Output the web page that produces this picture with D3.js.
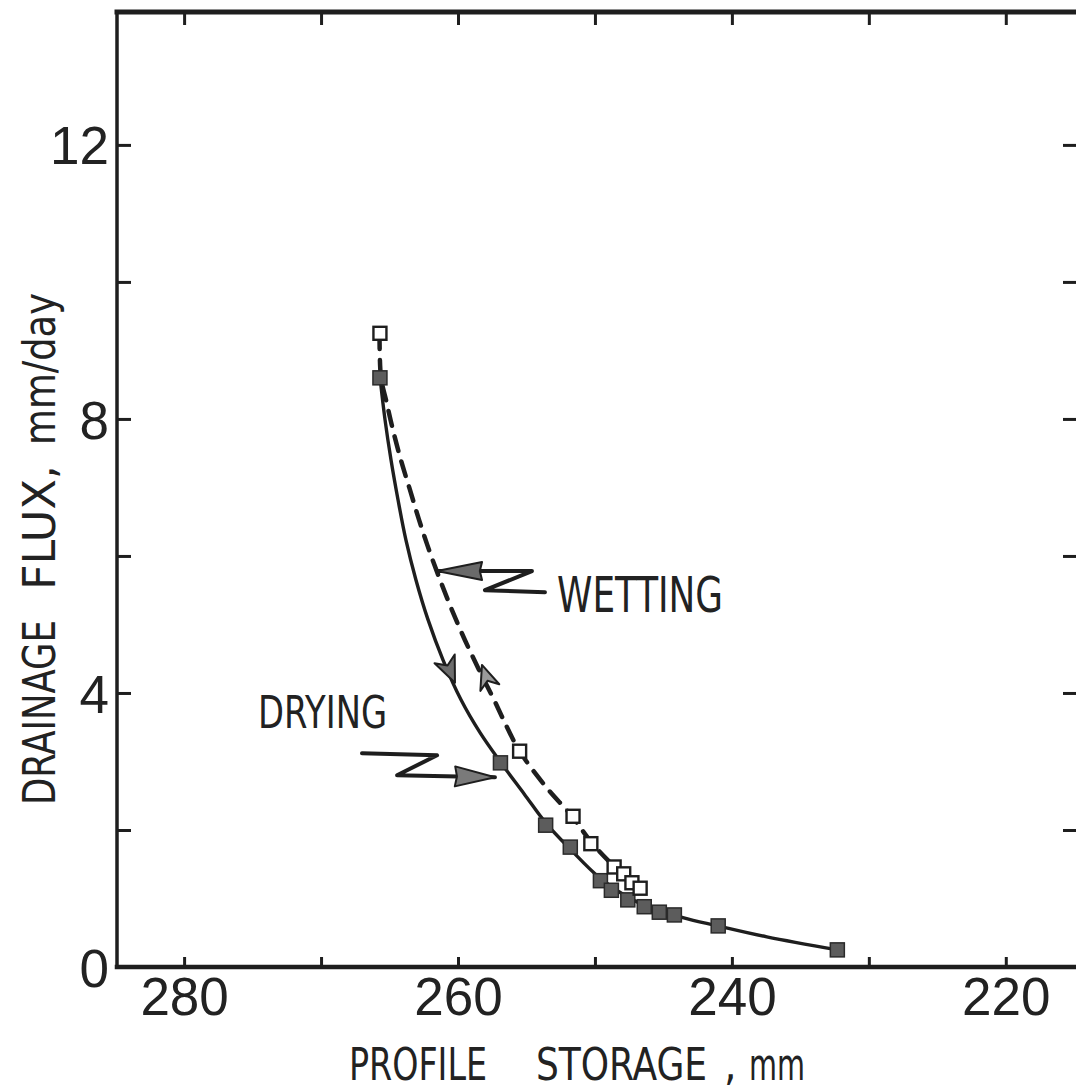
<!DOCTYPE html>
<html>
<head>
<meta charset="utf-8">
<script src="https://cdn.jsdelivr.net/npm/d3@7"></script>
<style>
  html, body { margin: 0; padding: 0; background: #fff; }
  svg { display: block; }
  .num { font-family: "Liberation Sans", Arial, sans-serif; font-size: 53px; fill: #222; }
  .cond { font-family: "Liberation Sans Narrow", "DejaVu Sans Condensed", "Roboto Condensed", sans-serif; fill: #222; }
</style>
</head>
<body>
<script>
// ---- axis ticks and labels ----
const storageTicks = [280, 270, 260, 250, 240, 230, 220];
const storageLabels = [280, 260, 240, 220];
const fluxTicks = [0, 2, 4, 6, 8, 10, 12];
const fluxLabels = [0, 4, 8, 12];

// ---- measured points: drying (filled squares) ----
const dryingStorage = [265.7, 256.9, 253.6, 251.8, 249.6, 248.8, 247.6, 246.4, 245.3, 244.2, 241.0, 232.3];
const dryingFlux    = [8.60, 2.98, 2.07, 1.75, 1.26, 1.12, 0.98, 0.88, 0.80, 0.76, 0.60, 0.25];

// ---- measured points: wetting (open squares) ----
const wettingStorage = [265.7, 255.5, 251.6, 250.3, 248.6, 247.9, 247.3, 246.7];
const wettingFlux    = [9.25, 3.15, 2.20, 1.80, 1.46, 1.36, 1.23, 1.15];

// ---- hand-fitted curves traced through the points ----
const dryingCurveStorage = [265.69, 265.33, 264.89, 264.38, 263.80, 263.07, 262.19, 261.09, 259.78, 258.39, 256.86, 255.18, 253.58, 251.75, 249.64, 247.23, 243.58, 241.02, 237.45, 232.26];
const dryingCurveFlux    = [8.60, 7.99, 7.40, 6.82, 6.23, 5.65, 5.07, 4.48, 3.90, 3.42, 2.98, 2.53, 2.10, 1.71, 1.30, 0.98, 0.72, 0.60, 0.44, 0.25];
const wettingCurveStorage = [265.73, 265.62, 265.26, 264.75, 264.17, 263.50, 262.85, 262.12, 261.31, 260.44, 259.49, 258.47, 257.37, 256.42, 255.47, 253.58, 251.68, 250.22, 248.54, 247.81, 247.30, 246.72];
const wettingCurveFlux    = [9.24, 8.60, 8.28, 7.84, 7.40, 6.96, 6.53, 6.09, 5.65, 5.21, 4.77, 4.34, 3.90, 3.50, 3.14, 2.63, 2.20, 1.81, 1.46, 1.34, 1.23, 1.15];

// ---- annotations (anchors in storage / flux units) ----
const wettingLabel = { text: "WETTING", storage: 252.77, flux: 5.18 };
const dryingLabel  = { text: "DRYING",  storage: 274.60, flux: 3.49 };
const wettingPointer = [[261.53, 5.78], [254.60, 5.78], [258.03, 5.50], [253.65, 5.47]];
const dryingPointer  = [[257.30, 2.77], [264.45, 2.80], [261.53, 3.09], [267.01, 3.12]];
const dryingDirection  = { tip: [260.22, 4.15], back: [261.09, 4.55] };
const wettingDirection = { tip: [258.25, 4.41], back: [257.66, 4.07] };

// ---- layout ----
const W = 1076, H = 1092;
const ink = "#1e1e1e";
const svg = d3.select("body").append("svg").attr("width", W).attr("height", H);

const x = d3.scaleLinear().domain([284.9, 214.8]).range([117, 1077]);
const y = d3.scaleLinear().domain([0, 13.94]).range([967, 12]);

// frame
const frame = svg.append("g").attr("stroke", ink).attr("stroke-linecap", "square").attr("fill", "none");
frame.append("line").attr("x1", x.range()[0]).attr("x2", W).attr("y1", y(13.94)).attr("y2", y(13.94)).attr("stroke-width", 5);
frame.append("line").attr("x1", x.range()[0]).attr("x2", W).attr("y1", y(0)).attr("y2", y(0)).attr("stroke-width", 4.5);
frame.append("line").attr("x1", x.range()[0]).attr("x2", x.range()[0]).attr("y1", y(13.94)).attr("y2", y(0)).attr("stroke-width", 3.5);

function styleAxis(g) {
  g.select(".domain").remove();
  g.selectAll(".tick line").attr("stroke", ink).attr("stroke-width", 3);
}

// bottom axis
svg.append("g").attr("transform", `translate(0,${y(0)})`)
  .call(d3.axisBottom(x).tickValues(storageTicks).tickSize(-10).tickSizeOuter(0)
        .tickFormat(d => storageLabels.includes(d) ? d : ""))
  .call(styleAxis)
  .call(g => g.selectAll(".tick text").attr("class", "num").attr("y", 48).attr("dy", null)
              .attr("font-size", null).attr("font-family", null).attr("fill", null));

// top axis
svg.append("g").attr("transform", `translate(0,${y(13.94)})`)
  .call(d3.axisTop(x).tickValues(storageTicks).tickSize(-13).tickSizeOuter(0).tickFormat(""))
  .call(styleAxis);

// left axis
svg.append("g").attr("transform", `translate(${x.range()[0]},0)`)
  .call(d3.axisLeft(y).tickValues(fluxTicks).tickSize(-14).tickSizeOuter(0)
        .tickFormat(d => fluxLabels.includes(d) ? d : ""))
  .call(styleAxis)
  .call(g => g.selectAll(".tick text").attr("class", "num").attr("x", -8).attr("dy", "0.36em")
              .attr("font-size", null).attr("font-family", null).attr("fill", null));

// right axis
svg.append("g").attr("transform", `translate(${x.range()[1]},0)`)
  .call(d3.axisRight(y).tickValues(fluxTicks.filter(d => d > 0)).tickSize(-14).tickSizeOuter(0).tickFormat(""))
  .call(styleAxis);

// axis titles
svg.append("text").attr("class", "cond").attr("font-size", 44)
  .attr("x", 349).attr("y", 1080).attr("textLength", 138).attr("lengthAdjust", "spacingAndGlyphs").text("PROFILE");
svg.append("text").attr("class", "cond").attr("font-size", 44)
  .attr("x", 536).attr("y", 1080).attr("textLength", 171).attr("lengthAdjust", "spacingAndGlyphs").text("STORAGE");
svg.append("text").attr("class", "cond").attr("font-size", 44)
  .attr("x", 724).attr("y", 1080).text(",");
svg.append("text").attr("class", "cond").attr("font-size", 44)
  .attr("x", 749).attr("y", 1080).attr("textLength", 56).attr("lengthAdjust", "spacingAndGlyphs").text("mm");

const yTitle = svg.append("g").attr("transform", "translate(55,0) rotate(-90)");
yTitle.append("text").attr("class", "cond").attr("font-size", 45)
  .attr("x", -805).attr("y", 0).attr("textLength", 185).attr("lengthAdjust", "spacingAndGlyphs").text("DRAINAGE");
yTitle.append("text").attr("class", "cond").attr("font-size", 45)
  .attr("x", -590).attr("y", 0).attr("textLength", 125).attr("lengthAdjust", "spacingAndGlyphs").text("FLUX,");
yTitle.append("text").attr("class", "cond").attr("font-size", 45)
  .attr("x", -445).attr("y", 0).attr("textLength", 152).attr("lengthAdjust", "spacingAndGlyphs").text("mm/day");

// curves
const zip = (a, b) => a.map((v, i) => [v, b[i]]);
const line = d3.line().x(d => x(d[0])).y(d => y(d[1])).curve(d3.curveCatmullRom.alpha(0.5));

svg.append("path").datum(zip(wettingCurveStorage, wettingCurveFlux))
  .attr("d", line).attr("fill", "none").attr("stroke", ink)
  .attr("stroke-width", 4.5).attr("stroke-dasharray", "15 11").attr("stroke-linecap", "round");

svg.append("path").datum(zip(dryingCurveStorage, dryingCurveFlux))
  .attr("d", line).attr("fill", "none").attr("stroke", ink).attr("stroke-width", 3.4);

// arrowhead helper (pixel geometry from a tip and a back point in data units)
function arrowHead(tip, back, len, half, notch) {
  const tx = x(tip[0]), ty = y(tip[1]);
  const bx = x(back[0]), by = y(back[1]);
  const d = Math.hypot(tx - bx, ty - by);
  const ux = (tx - bx) / d, uy = (ty - by) / d;
  const nx = -uy, ny = ux;
  return [
    [tx, ty],
    [tx - len * ux + half * nx, ty - len * uy + half * ny],
    [tx - notch * len * ux, ty - notch * len * uy],
    [tx - len * ux - half * nx, ty - len * uy - half * ny]
  ];
}
function drawHead(pts, fill) {
  svg.append("path").attr("d", "M" + pts.map(p => p.join(",")).join("L") + "Z")
    .attr("fill", fill).attr("stroke", ink).attr("stroke-width", 2).attr("stroke-linejoin", "round");
}

// direction arrows on the curves
drawHead(arrowHead(dryingDirection.tip, dryingDirection.back, 26, 11, 0.72), "#6d6d6d");
drawHead(arrowHead(wettingDirection.tip, wettingDirection.back, 24, 10, 0.7), "#9a9a9a");

// pointer arrows with zig-zag tails
const plain = d3.line().x(d => x(d[0])).y(d => y(d[1]));
svg.append("path").datum(wettingPointer).attr("d", plain).attr("fill", "none")
  .attr("stroke", ink).attr("stroke-width", 4).attr("stroke-linejoin", "round").attr("stroke-linecap", "round");
drawHead(arrowHead(wettingPointer[0], wettingPointer[1], 45, 9, 0.95), "#6a6a6a");

svg.append("path").datum(dryingPointer).attr("d", plain).attr("fill", "none")
  .attr("stroke", ink).attr("stroke-width", 4).attr("stroke-linejoin", "round").attr("stroke-linecap", "round");
drawHead(arrowHead(dryingPointer[0], dryingPointer[1], 40, 10, 0.95), "#7a7a7a");

// labels
svg.append("text").attr("class", "cond").attr("font-size", 50)
  .attr("x", x(wettingLabel.storage)).attr("y", y(wettingLabel.flux))
  .attr("textLength", 166).attr("lengthAdjust", "spacingAndGlyphs").text(wettingLabel.text);
svg.append("text").attr("class", "cond").attr("font-size", 44)
  .attr("x", x(dryingLabel.storage)).attr("y", y(dryingLabel.flux))
  .attr("textLength", 129).attr("lengthAdjust", "spacingAndGlyphs").text(dryingLabel.text);

// markers
const s = 14;
svg.append("g").selectAll("rect").data(zip(dryingStorage, dryingFlux)).join("rect")
  .attr("x", d => x(d[0]) - s / 2).attr("y", d => y(d[1]) - s / 2)
  .attr("width", s).attr("height", s)
  .attr("fill", "#5c5c5c").attr("stroke", "#2a2a2a").attr("stroke-width", 1.5);

const so = 13;
svg.append("g").selectAll("rect").data(zip(wettingStorage, wettingFlux)).join("rect")
  .attr("x", d => x(d[0]) - so / 2).attr("y", d => y(d[1]) - so / 2)
  .attr("width", so).attr("height", so)
  .attr("fill", "#fff").attr("stroke", ink).attr("stroke-width", 2.4);
</script>
</body>
</html>
